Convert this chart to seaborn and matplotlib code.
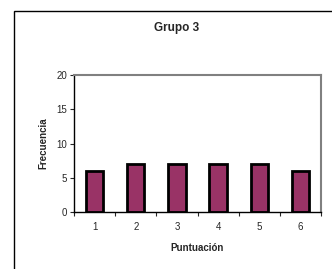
import pandas as pd
import matplotlib.pyplot as plt
import seaborn as sns
from matplotlib.patches import Rectangle

# Data
puntuacion = ["1", "2", "3", "4", "5", "6"]
frecuencia = [6, 7, 7, 7, 7, 6]

df = pd.DataFrame({"Puntuación": puntuacion, "Frecuencia": frecuencia})

sns.set_style("white")
plt.rcParams["font.family"] = ["Liberation Sans", "DejaVu Sans"]

fig = plt.figure(figsize=(3.32, 2.69), dpi=100)
W, H = 332, 269
ax = fig.add_axes([74 / W, 1 - 212 / H, (321 - 74) / W, (212 - 75) / H])

sns.barplot(data=df, x="Puntuación", y="Frecuencia", color="#993366",
            width=0.42, edgecolor="black", linewidth=2, saturation=1, ax=ax)

ax.set_ylim(0, 20)
ax.set_xlim(-0.5, 5.5)
ax.set_yticks([0, 5, 10, 15, 20])
ax.set_xticks([i - 0.5 for i in range(7)], minor=True)
ax.tick_params(axis="x", which="major", length=0, labelsize=7, pad=7)
ax.tick_params(axis="x", which="minor", length=3, width=0.8, direction="out", bottom=True)
ax.tick_params(axis="y", length=3, width=0.8, direction="out", left=True, labelsize=7, pad=2)

for side in ["top", "right"]:
    ax.spines[side].set_color("#808080")
    ax.spines[side].set_linewidth(1.5)
for side in ["left", "bottom"]:
    ax.spines[side].set_color("black")
    ax.spines[side].set_linewidth(1)

ax.set_xlabel("Puntuación", fontsize=7, fontweight="bold", labelpad=8)
ax.set_ylabel("Frecuencia", fontsize=7, fontweight="bold", labelpad=6)
fig.text(177 / W, 1 - 28 / H, "Grupo 3", fontsize=8.5, fontweight="bold",
         ha="center", va="center")

# outer chart border
fig.patches.append(Rectangle((14 / W, -0.1), 1, 1 - 11 / H + 0.1,
                             transform=fig.transFigure, fill=False,
                             edgecolor="black", linewidth=1))

fig.savefig("out.png", dpi=100)
